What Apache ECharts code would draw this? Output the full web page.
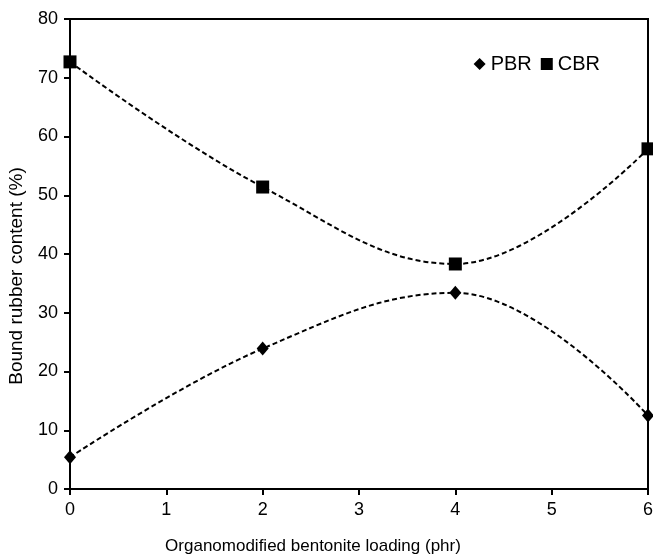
<!DOCTYPE html>
<html><head><meta charset="utf-8">
<script src="https://cdn.jsdelivr.net/npm/echarts@6/dist/echarts.min.js"></script>
<style>html,body{margin:0;padding:0;background:#fff}#c{width:653px;height:558px}</style>
</head><body><div id="c"></div>
<script>
const loading = [0, 2, 4, 6];
const pbr = [5.4, 23.9, 33.4, 12.5];
const cbr = [72.7, 51.4, 38.3, 57.9];
const xTicks = [0, 1, 2, 3, 4, 5, 6];
const yTicks = [0, 10, 20, 30, 40, 50, 60, 70, 80];

const font = 'Liberation Sans, Arial, sans-serif';
const chart = echarts.init(document.getElementById('c'));
const pair = (xs, ys) => xs.map((x, i) => [x, ys[i]]);
const lineStyle = { color: '#000', width: 2, type: [5, 3] };
chart.setOption({
  animation: false,
  grid: { left: 70, right: 5, top: 19, bottom: 69, show: true, borderColor: '#000', borderWidth: 2,
          containLabel: false, outerBoundsMode: 'none' },
  legend: {
    data: [{ name: 'PBR', icon: 'diamond' }, { name: 'CBR', icon: 'rect' }],
    right: 48, top: 49, itemWidth: 12, itemHeight: 12, itemGap: 9,
    textStyle: { fontFamily: font, fontSize: 20, color: '#000' }
  },
  xAxis: {
    type: 'value', min: xTicks[0], max: xTicks[xTicks.length - 1], interval: 1,
    name: 'Organomodified bentonite loading (phr)', nameLocation: 'middle', nameGap: 49,
    nameTextStyle: { fontFamily: font, fontSize: 17, color: '#000', padding: [0, 92, 0, 0] },
    axisLine: { lineStyle: { color: '#000', width: 2 } },
    axisTick: { show: true, length: 6, lineStyle: { color: '#000', width: 2 } },
    axisLabel: { fontFamily: font, fontSize: 18, color: '#000', margin: 12 },
    splitLine: { show: false }
  },
  yAxis: {
    type: 'value', min: yTicks[0], max: yTicks[yTicks.length - 1], interval: 10,
    name: 'Bound rubber content (%)', nameLocation: 'middle', nameGap: 44,
    nameTextStyle: { fontFamily: font, fontSize: 19, color: '#000', padding: [0, 44, 0, 0] },
    axisLine: { lineStyle: { color: '#000', width: 2 } },
    axisTick: { show: true, length: 6, lineStyle: { color: '#000', width: 2 } },
    axisLabel: { fontFamily: font, fontSize: 18, color: '#000', margin: 12 },
    splitLine: { show: false }
  },
  series: [
    { name: 'PBR', type: 'line', smooth: 0.4, data: pair(loading, pbr), symbol: 'diamond', symbolSize: [12, 14],
      itemStyle: { color: '#000' }, lineStyle, clip: false },
    { name: 'CBR', type: 'line', smooth: 0.4, data: pair(loading, cbr), symbol: 'rect', symbolSize: 13,
      itemStyle: { color: '#000' }, lineStyle, clip: false }
  ]
});
</script></body></html>
